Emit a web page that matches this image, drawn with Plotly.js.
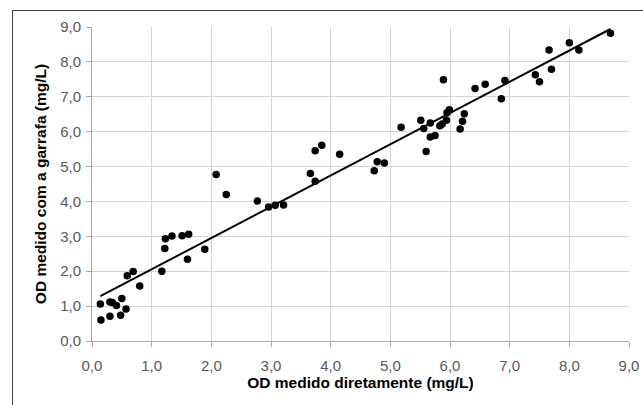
<!DOCTYPE html>
<html>
<head>
<meta charset="utf-8">
<script src="https://cdn.plot.ly/plotly-3.0.1.min.js"></script>
<style>
html,body{margin:0;padding:0;background:#fff;}
#frame{position:absolute;left:12px;top:10px;width:700px;height:500px;border-left:1px solid #404040;border-top:1px solid #404040;box-sizing:border-box;}
#chart{position:absolute;left:0;top:0;width:643px;height:405px;}
</style>
</head>
<body>
<div id="frame"></div>
<div id="chart"></div>
<script>
// OD measured directly (mg/L)
const odDireto = [0.14,0.15,0.30,0.34,0.41,0.30,0.50,0.48,0.57,0.59,0.69,0.80,
  1.17,1.22,1.23,1.34,1.51,1.62,1.60,1.89,2.08,2.25,2.77,2.96,3.07,3.21,
  3.66,3.74,3.74,3.85,4.15,4.73,4.78,4.90,5.18,5.51,5.56,5.60,5.67,5.67,
  5.75,5.83,5.87,5.89,5.94,5.95,5.99,6.17,6.21,6.24,6.42,6.59,6.86,6.92,
  7.43,7.50,7.66,7.70,8.00,8.16,8.69];
// OD measured with the bottle (mg/L)
const odGarrafa = [1.06,0.60,1.12,1.10,1.02,0.71,1.22,0.74,0.92,1.87,1.99,1.58,
  2.00,2.65,2.93,3.01,3.02,3.06,2.34,2.63,4.77,4.20,4.01,3.84,3.89,3.90,
  4.80,4.58,5.45,5.61,5.35,4.88,5.14,5.10,6.13,6.33,6.09,5.43,6.25,5.85,
  5.89,6.17,6.22,7.49,6.33,6.54,6.63,6.08,6.30,6.51,7.24,7.36,6.94,7.47,
  7.63,7.43,8.34,7.79,8.55,8.34,8.82];
const tickVals = [0,1,2,3,4,5,6,7,8,9];
const xTitle = 'OD medido diretamente (mg/L)';
const yTitle = 'OD medido com a garrafa (mg/L)';

// linear trend (least squares) computed from the data
const n = odDireto.length;
const mx = odDireto.reduce((a,b)=>a+b,0)/n;
const my = odGarrafa.reduce((a,b)=>a+b,0)/n;
let sxy=0, sxx=0;
for(let i=0;i<n;i++){sxy+=(odDireto[i]-mx)*(odGarrafa[i]-my);sxx+=(odDireto[i]-mx)**2;}
const slope = sxy/sxx, intercept = my - slope*mx;
const xmin = Math.min(...odDireto), xmax = Math.max(...odDireto);
const trendX = [xmin, xmax];
const trendY = trendX.map(v => intercept + slope*v);

const FONT = 'Liberation Sans, Arial, sans-serif';
const traces = [
  {x: odDireto, y: odGarrafa, type:'scatter', mode:'markers',
   marker:{color:'#000000', size:7.5}, hoverinfo:'skip'},
  {x: trendX, y: trendY, type:'scatter', mode:'lines',
   line:{color:'#000000', width:2}, hoverinfo:'skip'}
];
const axisCommon = {
  range:[0,9], tickvals: tickVals, tickformat:'.1f',
  showgrid:true, gridcolor:'#d4d4d4', gridwidth:1,
  showline:true, linecolor:'#a8a8a8', linewidth:1,
  ticks:'outside', ticklen:5, tickcolor:'#a8a8a8',
  zeroline:false, automargin:false,
  tickfont:{family:FONT, size:15, color:'#595959'}
};
const layout = {
  width:643, height:405,
  margin:{l:92, r:14, t:27, b:64},
  paper_bgcolor:'rgba(0,0,0,0)', plot_bgcolor:'rgba(0,0,0,0)',
  separators:', ',
  showlegend:false,
  xaxis: Object.assign({}, axisCommon, {
    ticklabelstandoff:6,
    title:{text:'<b>'+xTitle+'</b>', standoff:3,
      font:{family:FONT, size:15.5, color:'#000000'}}
  }),
  yaxis: Object.assign({}, axisCommon, {
    ticklabelstandoff:2,
    title:{text:'<b>'+yTitle+'</b>', standoff:9,
      font:{family:FONT, size:15.5, color:'#000000'}}
  })
};
Plotly.newPlot('chart', traces, layout, {staticPlot:true, displayModeBar:false});
</script>
</body>
</html>
